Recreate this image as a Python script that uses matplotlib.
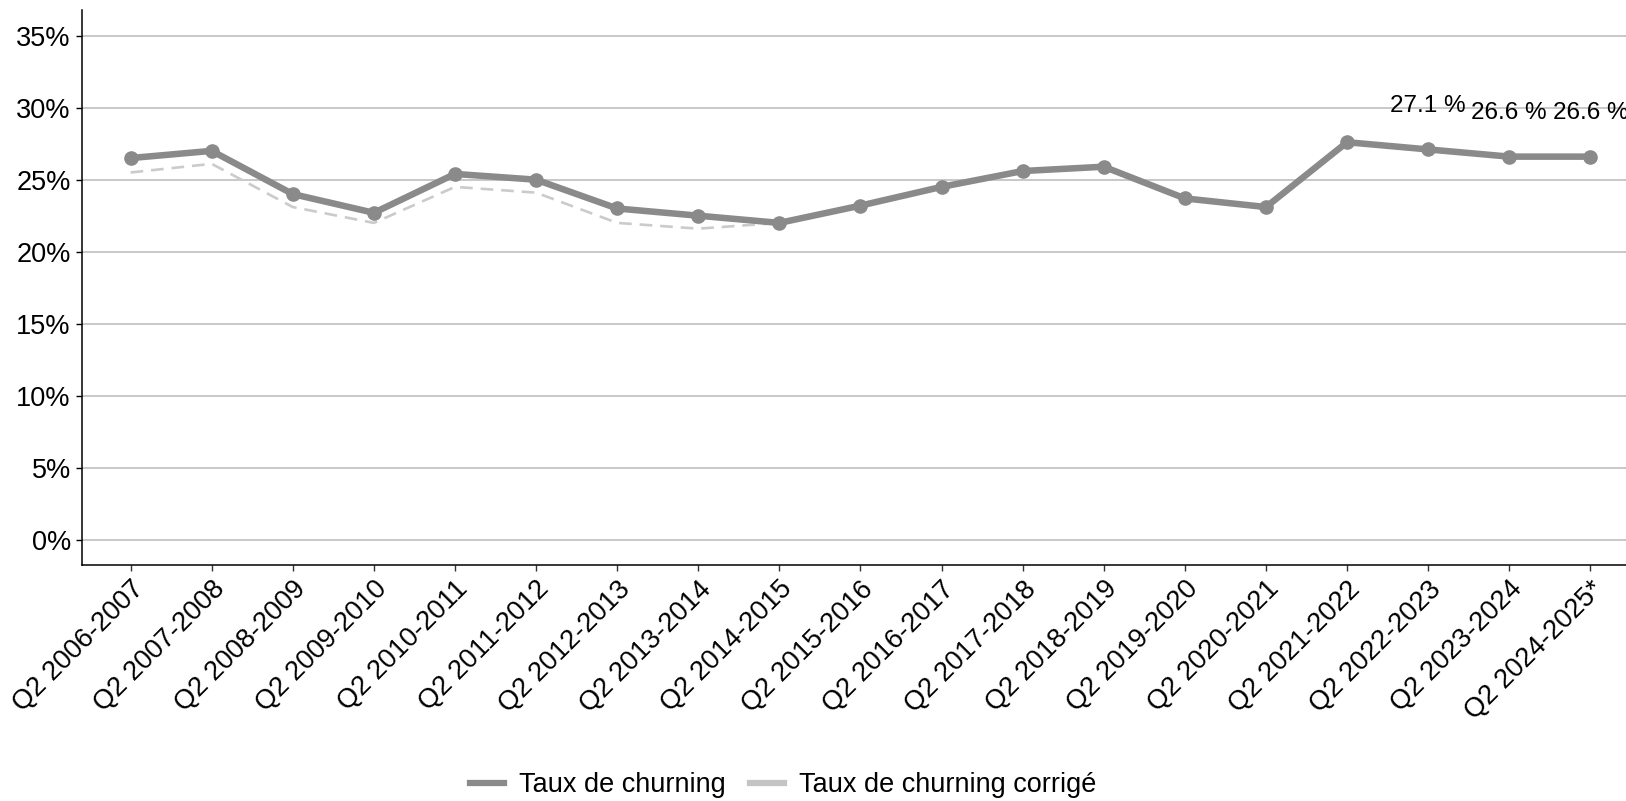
import matplotlib.pyplot as plt
from matplotlib.lines import Line2D
from matplotlib.ticker import FuncFormatter

plt.rcParams['font.family'] = ['Liberation Sans', 'DejaVu Sans']

periodes = ['Q2 2006-2007', 'Q2 2007-2008', 'Q2 2008-2009', 'Q2 2009-2010',
            'Q2 2010-2011', 'Q2 2011-2012', 'Q2 2012-2013', 'Q2 2013-2014',
            'Q2 2014-2015', 'Q2 2015-2016', 'Q2 2016-2017', 'Q2 2017-2018',
            'Q2 2018-2019', 'Q2 2019-2020', 'Q2 2020-2021', 'Q2 2021-2022',
            'Q2 2022-2023', 'Q2 2023-2024', 'Q2 2024-2025*']
churning = [26.5, 27.0, 24.0, 22.7, 25.4, 25.0, 23.0, 22.5, 22.0, 23.2,
            24.5, 25.6, 25.9, 23.7, 23.1, 27.6, 27.1, 26.6, 26.6]
churning_corrige = [25.5, 26.1, 23.1, 22.0, 24.5, 24.1, 22.0, 21.6, 22.0, 23.2,
                    24.5, 25.6, 25.9, 23.7, 23.1, 27.6, 27.1, 26.6, 26.6]
labels_idx = [16, 17, 18]

fig = plt.figure(figsize=(16.26, 8.01), dpi=100)
ax = fig.add_axes([0.0504, 0.2946, 0.9576, 0.6924])

x = list(range(len(periodes)))

# corrected series under the main one
ax.plot(x, churning_corrige, color='#cbcbcb', lw=1.9, dashes=(4.8, 3), zorder=2)
ax.plot(x, churning, color='#8a8a8a', lw=4.7, marker='o', markersize=9.5, zorder=3)

for i in labels_idx:
    ax.text(x[i], churning[i] + 3.0, f'{churning[i]:.1f} %', ha='center', va='center',
            fontsize=17.5, color='black', zorder=4)

ax.set_xlim(-0.6, len(periodes) - 0.4)
ax.set_ylim(-1.75, 36.75)
ax.set_yticks(range(0, 36, 5))
ax.yaxis.set_major_formatter(FuncFormatter(lambda v, p: f'{v:.0f}%'))
ax.set_xticks(x)
ax.set_xticklabels(periodes, rotation=45, ha='right', va='top', rotation_mode='anchor')

ax.grid(axis='y', color='#c8c8c8', lw=1.4)
ax.set_axisbelow(True)
for s in ['top', 'right']:
    ax.spines[s].set_visible(False)
for s in ['left', 'bottom']:
    ax.spines[s].set_linewidth(1.1)
    ax.spines[s].set_color('black')
ax.tick_params(axis='both', labelsize=19.5, colors='black', length=4, width=1, pad=4)
ax.tick_params(axis='x', color='#333333')

handles = [Line2D([0], [0], color='#8a8a8a', lw=4.5),
           Line2D([0], [0], color='#c4c4c4', lw=4.5)]
fig.legend(handles, ['Taux de churning', 'Taux de churning corrigé'], loc='center',
           bbox_to_anchor=(0.4817, 0.02), ncol=2, frameon=False, fontsize=19.5,
           handlelength=1.25, handletextpad=0.55, columnspacing=0.9, borderpad=0)

fig.savefig('out.png', dpi=100)
